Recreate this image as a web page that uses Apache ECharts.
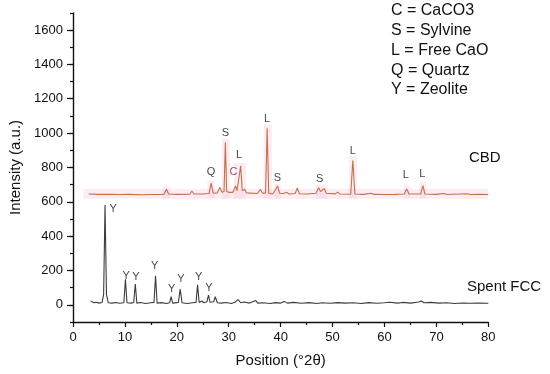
<!DOCTYPE html>
<html><head><meta charset="utf-8">
<script src="https://cdn.jsdelivr.net/npm/echarts@6/dist/echarts.min.js"></script>
<style>html,body{margin:0;padding:0;background:#fff}#c{width:550px;height:374px}</style>
</head><body><div id="c"></div>
<script>
// ---- data ----
const cbdX = [3.0,5,7,9,11,13,15,17.5,18.0,18.4,20,22.5,22.9,23.3,25,26.2,26.6,27.0,27.8,28.3,28.7,29.1,29.35,29.6,30.0,30.8,31.3,31.6,31.9,32.3,32.6,32.9,33.1,33.4,35.5,36.1,36.5,37.1,37.4,37.7,38.5,39.4,39.8,40.5,41.2,41.6,42.8,43.2,43.6,45,46.8,47.3,47.7,48.0,48.4,48.8,50.5,51.0,51.4,53.5,53.9,54.3,56,57.4,58,60,62,63.8,64.3,64.7,67.0,67.4,67.8,70,71.4,72,75.9,76.5,78,80];
const cbdY = [645,643,644,642,643,641,642,643,673,645,643,644,663,645,645,648,708,650,652,684,655,660,947,660,655,655,692,665,668,810,665,660,673,652,648,673,650,652,1028,650,645,692,650,648,655,645,648,680,647,645,650,682,660,658,678,650,646,656,645,644,840,645,643,650,643,642,643,645,675,645,646,694,645,643,648,642,647,642,643,642];

const fccX = [3.4,4,4.5,5,5.6,5.9,6.17,6.45,6.8,7.5,8.2,9,9.8,10.1,10.4,11.2,11.7,12.0,12.3,13,14,15,15.6,15.9,16.2,17,18,18.6,18.9,19.2,20.3,20.65,21.0,22,23,23.7,24.0,24.3,24.8,25.2,25.8,26.1,26.4,27.1,27.4,27.8,28.5,29.5,30.5,31.2,31.8,32.3,33,34,35.2,35.6,36.5,38,39,40,40.7,41.3,42.5,44,45.5,47,48,49.5,51,52.5,54,55.5,57,58.5,60,61,62.5,63.5,65,66.6,67.1,67.6,69,70.5,72,73.5,75,76.5,78,80];
const fccY = [23,12,15,10,14,60,581,60,12,10,14,9,12,148,12,10,14,121,10,14,8,12,14,169,10,13,8,12,47,10,14,92,12,8,12,14,117,14,22,12,18,57,15,18,47,12,10,14,8,15,30,12,16,10,25,10,12,8,13,10,20,10,14,9,13,8,12,9,13,10,12,8,13,9,12,15,10,14,10,16,22,12,14,10,12,8,11,9,10,9];

// peak annotations: letter, 2θ, label height (a.u.)
const cbdLetters = ['Q','S','C','L','L','S','S','L','L','L'];
const cbdLetterX = [26.6,29.35,30.9,32.0,37.4,39.4,47.5,53.9,64.1,67.3];
const cbdLetterY = [775,1003,772,873,1083,740,735,896,756,760];
const fccLetters = ['Y','Y','Y','Y','Y','Y','Y','Y'];
const fccLetterX = [7.75,10.25,12.1,15.75,19.0,20.8,24.2,26.2];
const fccLetterY = [556,167,163,226,93,150,160,101];

// highlighted 2θ ranges behind CBD peaks: [from, to, top]
const bandFrom = [2.0,17.3,25.9,28.7,31.0,36.7,38.8,46.8,53.2,63.7,66.8];
const bandTo   = [80.5,18.8,27.3,30.2,33.3,38.3,40.0,49.0,54.7,64.9,68.0];
const bandTop  = [675,690,725,965,825,1050,705,700,865,695,715];
const bandBottom = 618;

const xTicks = [0,10,20,30,40,50,60,70,80];
const yTicks = [0,200,400,600,800,1000,1200,1400,1600];
const keyLines = ['C = CaCO3','S = Sylvine','L = Free CaO','Q = Quartz','Y = Zeolite'];

// ---- chart ----
const FONT = 'Liberation Sans, Arial, Helvetica, sans-serif';
const zip = (a,b) => a.map((v,i)=>[v,b[i]]);
const areas = bandFrom.map((f,i)=>[{xAxis:f, yAxis:bandBottom},{xAxis:bandTo[i], yAxis:bandTop[i]}]);
const letterData = (t,x,y,col) => t.map((s,i)=>({value:[x[i],y[i]], name:s, label:{color: s==='C' ? '#7a1535' : '#111'}}));

const chart = echarts.init(document.getElementById('c'), null, {renderer:'canvas'});
chart.setOption({
  animation:false,
  backgroundColor:'#fff',
  textStyle:{fontFamily:FONT},
  grid:{left:70.5, right:61.7, top:12.85, bottom:52, containLabel:false},
  xAxis:{
    type:'value', min:0, max:80, interval:10,
    name:'Position (°2θ)', nameLocation:'middle', nameGap:31,
    nameTextStyle:{fontSize:15, color:'#111', fontFamily:FONT},
    axisLine:{show:true, onZero:false, lineStyle:{color:'#111', width:1.4}},
    axisTick:{show:true, length:5, lineStyle:{color:'#111', width:1.2}},
    minorTick:{show:true, splitNumber:2, length:3, lineStyle:{color:'#111', width:1.2}},
    axisLabel:{fontSize:13, color:'#111', margin:9, fontFamily:FONT},
    splitLine:{show:false}, minorSplitLine:{show:false}
  },
  yAxis:[{
    type:'value', min:-100, max:1700, interval:100,
    name:'Intensity (a.u.)', nameLocation:'middle', nameGap:50, nameRotate:90,
    nameTextStyle:{fontSize:15, color:'#111', fontFamily:FONT},
    axisLine:{show:true, onZero:false, lineStyle:{color:'#111', width:1.4}},
    axisTick:{show:true, length:3, lineStyle:{color:'#111', width:1.2}},
    axisLabel:{fontSize:13, color:'#111', margin:10, fontFamily:FONT,
      formatter: v => (yTicks.indexOf(v) >= 0 ? String(v) : '')},
    splitLine:{show:false}
  },{
    type:'value', min:-100, max:1700, position:'left',
    axisLine:{show:false},
    axisTick:{show:true, length:6, customValues:yTicks, lineStyle:{color:'#111', width:1.2}},
    axisLabel:{show:false},
    splitLine:{show:false}
  }],
  series:[
    {
      type:'line', name:'CBD', data:zip(cbdX,cbdY), showSymbol:false, symbol:'none',
      lineStyle:{color:'#c0724a', width:1.1}, z:3,
      markArea:{silent:true, itemStyle:{color:'rgba(250,200,220,0.35)'}, data:areas}
    },
    {
      type:'line', name:'Spent FCC', data:zip(fccX,fccY), showSymbol:false, symbol:'none',
      lineStyle:{color:'#3c3c3c', width:1.1}, z:3
    },
    {
      type:'scatter', data:letterData(cbdLetters,cbdLetterX,cbdLetterY).concat(letterData(fccLetters,fccLetterX,fccLetterY)),
      symbolSize:1, itemStyle:{color:'rgba(0,0,0,0)'}, silent:true, z:4,
      label:{show:true, position:'inside', formatter:p=>p.name, fontSize:11, fontFamily:FONT}
    }
  ],
  graphic:[
    {type:'group', left:391, top:3, children: keyLines.map((t,i)=>({
      type:'text', x:0, y:i*19.7, style:{text:t, font:'16px '+FONT, fill:'#111', textVerticalAlign:'top'}
    }))},
    {type:'text', left:469, top:150, style:{text:'CBD', font:'15px '+FONT, fill:'#111'}},
    {type:'text', left:467, top:279, style:{text:'Spent FCC', font:'15px '+FONT, fill:'#111'}}
  ]
});
</script></body></html>
